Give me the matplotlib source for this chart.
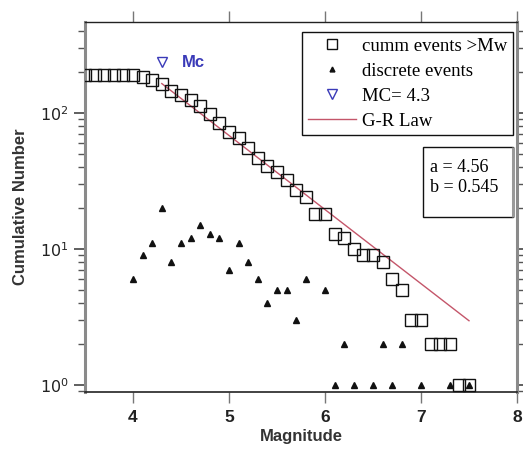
import matplotlib
matplotlib.use("Agg")
import matplotlib.pyplot as plt
from matplotlib.patches import Rectangle
from matplotlib.lines import Line2D
from matplotlib.ticker import LogLocator, NullFormatter, FixedLocator
import numpy as np

plt.rcParams['mathtext.fontset'] = 'custom'
plt.rcParams['mathtext.rm'] = 'Liberation Sans:bold'
plt.rcParams['mathtext.it'] = 'Liberation Sans:bold'
plt.rcParams['mathtext.bf'] = 'Liberation Sans:bold'

# ---- data ----
cum_mag = [3.5, 3.6, 3.7, 3.8, 3.9, 4.0, 4.1, 4.2, 4.3, 4.4, 4.5, 4.6, 4.7, 4.8,
           4.9, 5.0, 5.1, 5.2, 5.3, 5.4, 5.5, 5.6, 5.7, 5.8, 5.9, 6.0, 6.1, 6.2,
           6.3, 6.4, 6.5, 6.6, 6.7, 6.8, 6.9, 7.0, 7.1, 7.2, 7.3, 7.4, 7.5]
cum_n = [190, 190, 190, 190, 190, 190, 184, 175, 164, 144, 136, 125, 113, 98,
         85, 73, 66, 55, 47, 41, 37, 32, 27, 24, 18, 18, 13, 12,
         10, 9, 9, 8, 6, 5, 3, 3, 2, 2, 2, 1, 1]

disc_mag = [4.0, 4.1, 4.2, 4.3, 4.4, 4.5, 4.6, 4.7, 4.8, 4.9, 5.0, 5.1, 5.2, 5.3,
            5.4, 5.5, 5.6, 5.7, 5.8, 6.0, 6.1, 6.2, 6.3, 6.5, 6.6, 6.7, 6.8,
            7.0, 7.3, 7.5]
disc_n = [6, 9, 11, 20, 8, 11, 12, 15, 13, 12, 7, 11, 8, 6,
          4, 5, 5, 3, 6, 5, 1, 2, 1, 1, 2, 1, 2,
          1, 1, 1]

mc_value = 4.3
mc_y = 237
a_val = 4.56
b_val = 0.545
gr_mag = [4.3, 7.5]
gr_n = [10 ** (a_val - b_val * m) for m in gr_mag]

x_ticks = [4, 5, 6, 7, 8]
x_labels = ['4', '5', '6', '7', '8']

# ---- figure ----
fig = plt.figure(figsize=(5.23, 4.58), dpi=100)
ax = fig.add_axes([85/523, 1-392/458, 432/523, 370/458])
ax.set_yscale('log')
ax.set_xlim(3.5, 8.0)
ax.set_ylim(0.888, 467)

gr_color = '#c4566a'
ax.plot(gr_mag, gr_n, color=gr_color, lw=1.0, zorder=2)
ax.plot(cum_mag, cum_n, linestyle='none', marker='s', markersize=8.2,
        markerfacecolor='none', markeredgecolor='#111111', markeredgewidth=1.0,
        zorder=3)
ax.plot(disc_mag, disc_n, linestyle='none', marker='^', markersize=4.2,
        color='#111111', zorder=3)
ax.plot([mc_value], [mc_y], linestyle='none', marker='v', markersize=7,
        markerfacecolor='none', markeredgecolor='#3a3ab8', markeredgewidth=1.0,
        zorder=3)
ax.text(4.51, mc_y, 'Mc', color='#3a3ab8', fontsize=12, fontweight='bold',
        family='Liberation Sans', va='center', ha='left')

# spines
for s in ['left', 'right']:
    ax.spines[s].set_color('#8a8a8a')
    ax.spines[s].set_linewidth(2.2)
ax.spines['top'].set_color('#222222')
ax.spines['top'].set_linewidth(1.0)
ax.spines['bottom'].set_color('#222222')
ax.spines['bottom'].set_linewidth(1.2)

ax.xaxis.set_major_locator(FixedLocator(x_ticks))
ax.set_xticklabels(x_labels)
ax.yaxis.set_major_locator(LogLocator(base=10, numticks=10))
ax.yaxis.set_minor_locator(LogLocator(base=10, subs=np.arange(2, 10), numticks=10))
ax.yaxis.set_minor_formatter(NullFormatter())

ax.tick_params(axis='x', which='major', direction='out', length=8, width=1,
               color='#777777', top=True, bottom=True, labeltop=False,
               labelsize=12.5, pad=5)
ax.tick_params(axis='y', which='major', direction='out', length=8, width=1.2,
               color='#444444', left=True, right=True, labelright=False,
               labelsize=11.5, pad=4)
ax.tick_params(axis='y', which='minor', direction='out', length=5, width=1,
               color='#555555', left=True, right=True)
for lab in ax.get_xticklabels():
    lab.set_fontfamily('Liberation Sans')
    lab.set_fontweight('bold')
    lab.set_color('#222222')
for lab in ax.get_yticklabels():
    lab.set_color('#222222')

ax.set_xlabel('Magnitude', fontsize=12, fontweight='bold', family='Liberation Sans',
              color='#333333', labelpad=3)
ax.set_ylabel('Cumulative Number', fontsize=12, fontweight='bold',
              family='Liberation Sans', color='#333333', labelpad=8)

# legend
handles = [
    Line2D([], [], linestyle='none', marker='s', markersize=7, markerfacecolor='none',
           markeredgecolor='#111111', markeredgewidth=1.0),
    Line2D([], [], linestyle='none', marker='^', markersize=3.5, color='#111111'),
    Line2D([], [], linestyle='none', marker='v', markersize=7, markerfacecolor='none',
           markeredgecolor='#3a3ab8', markeredgewidth=1.0),
    Line2D([], [], color=gr_color, lw=1.0),
]
labels = ['cumm events >Mw', 'discrete events', 'MC= 4.3', 'G-R Law']
leg = ax.legend(handles, labels, loc='upper right', bbox_to_anchor=(0.991, 0.973),
                borderaxespad=0, frameon=True, fancybox=False, framealpha=1,
                edgecolor='#111111', prop={'family': 'Liberation Serif', 'size': 13.5},
                handlelength=2.55, handletextpad=0.35, labelspacing=0.42,
                borderpad=0.3)
leg.get_frame().set_linewidth(1.0)

# parameter box
bx0 = (423-85)/432
bx1 = (513-85)/432
by0 = 1-(217-22)/370
by1 = 1-(147-22)/370
ax.add_patch(Rectangle((bx0, by0), bx1-bx0, by1-by0, transform=ax.transAxes,
                       facecolor='white', edgecolor='#111111', lw=1.0, zorder=5))
ax.plot([bx1, bx1], [by0, by1], transform=ax.transAxes, color='#999999', lw=2.2,
        zorder=6, solid_capstyle='butt')
ax.text((430-85)/432, 1-(167-22)/370, 'a = 4.56', transform=ax.transAxes,
        family='Liberation Serif', fontsize=13, va='center', ha='left', zorder=7)
ax.text((430-85)/432, 1-(188-22)/370, 'b = 0.545', transform=ax.transAxes,
        family='Liberation Serif', fontsize=13, va='center', ha='left', zorder=7)

fig.savefig('out.png', dpi=100)
